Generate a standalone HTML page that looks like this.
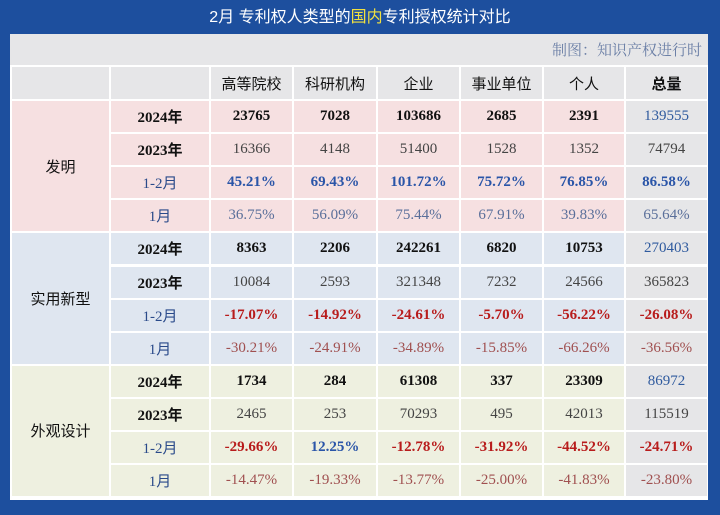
<!DOCTYPE html>
<html><head><meta charset="utf-8">
<style>
body{margin:0;width:720px;height:515px;background:#1d4f9e;overflow:hidden;font-family:"Liberation Serif","Noto Serif CJK SC",serif;}
#title{position:absolute;left:0;top:4px;width:720px;text-align:center;color:#fff;font-family:"Liberation Sans","Noto Sans CJK SC",sans-serif;font-size:16px;line-height:28px;}
#title span{color:#f0e040;}
#frame{position:absolute;left:10px;top:34px;width:698px;height:466px;background:#fff;}
#cap{position:absolute;left:10px;top:34px;width:698px;height:31px;background:#e6e6e8;}
#cap div{position:absolute;right:6px;top:5px;color:#6b7fa6;font-size:15px;font-family:"Liberation Serif","Noto Serif CJK SC",serif;}
.c{position:absolute;box-sizing:border-box;display:flex;align-items:center;justify-content:center;font-size:14px;color:#444;}
.h{font-family:"Liberation Sans","Noto Sans CJK SC",sans-serif;color:#111;font-size:15px;}
</style></head><body>
<div id="title">2月 专利权人类型的<span>国内</span>专利授权统计对比</div>
<div id="frame"></div>
<div id="cap"><div>制图：知识产权进行时</div></div>
<div id="grid"></div>
<script>
const columns=["高等院校","科研机构","企业","事业单位","个人","总量"];
const groups=["发明","实用新型","外观设计"];
const rowLabels=["2024年","2023年","1-2月","1月"];
const v2024=[[23765,7028,103686,2685,2391,139555],[8363,2206,242261,6820,10753,270403],[1734,284,61308,337,23309,86972]];
const v2023=[[16366,4148,51400,1528,1352,74794],[10084,2593,321348,7232,24566,365823],[2465,253,70293,495,42013,115519]];
const g12=[[45.21,69.43,101.72,75.72,76.85,86.58],[-17.07,-14.92,-24.61,-5.70,-56.22,-26.08],[-29.66,12.25,-12.78,-31.92,-44.52,-24.71]];
const g1=[[36.75,56.09,75.44,67.91,39.83,65.64],[-30.21,-24.91,-34.89,-15.85,-66.26,-36.56],[-14.47,-19.33,-13.77,-25.00,-41.83,-23.80]];
const colX=[11,110,210,293,377,460,543,625,708];
const bg=["#f6e0e1","#dfe6f0","#eef0e0"];
const grid=document.getElementById('grid');
function cell(x,y,w,h,txt,style,name){
  const d=document.createElement('div');
  d.className='c';
  d.style.cssText=`left:${x+1}px;top:${y+1}px;width:${w-2}px;height:${h-2}px;`+style;
  d.textContent=txt;
  
  
  grid.appendChild(d);
}
const hy=66,hh=34;
cell(colX[0],hy,colX[1]-colX[0],hh,'','background:#e6e6e8;','header-blank-1');
cell(colX[1],hy,colX[2]-colX[1],hh,'','background:#e6e6e8;','header-blank-2');
columns.forEach((c,i)=>cell(colX[i+2],hy,colX[i+3]-colX[i+2],hh,c,'background:#e6e6e8;font-family:"Liberation Sans","Noto Sans CJK SC",sans-serif;color:#111;font-size:15px;'+(i==5?'font-weight:bold;':''),'header-'+i));
const y0=100,rh=33.1;
groups.forEach((g,gi)=>{
  const gy=y0+gi*4*rh;
  cell(colX[0],gy,colX[1]-colX[0],rh*4,g,`background:${bg[gi]};font-family:"Liberation Sans","Noto Sans CJK SC",sans-serif;color:#111;font-size:15px;`,'group-'+gi);
  for(let r=0;r<4;r++){
    const y=gy+r*rh;
    const lab=rowLabels[r];
    const labStyle=r<2?'color:#111;font-weight:bold;font-size:15px;':'color:#2a4a8a;font-size:15px;';
    cell(colX[1],y,colX[2]-colX[1],rh,lab,`background:${bg[gi]};font-family:"Liberation Serif","Noto Sans CJK SC",serif;`+labStyle,'row-label-'+gi+'-'+r);
    for(let c=0;c<6;c++){
      let t,st;
      const b=c==5?'#e6e6e8':bg[gi];
      if(r==0){t=String(v2024[gi][c]);st=c==5?'color:#2f5a9e;font-size:15px;':'color:#111;font-weight:bold;font-size:15px;';}
      else if(r==1){t=String(v2023[gi][c]);st='color:#444;font-size:15px;';}
      else{const v=(r==2?g12:g1)[gi][c];t=v.toFixed(2)+'%';
        if(r==2)st=(v<0?'color:#b81c1c;':'color:#2a55a8;')+'font-weight:bold;font-size:15px;';
        else st=(v<0?'color:#a05050;':'color:#5a6f9a;')+'font-size:15px;';}
      cell(colX[c+2],y,colX[c+3]-colX[c+2],rh,t,`background:${b};`+st,'cell-'+gi+'-'+r+'-'+c);
    }
  }
});
</script>
</body></html>
